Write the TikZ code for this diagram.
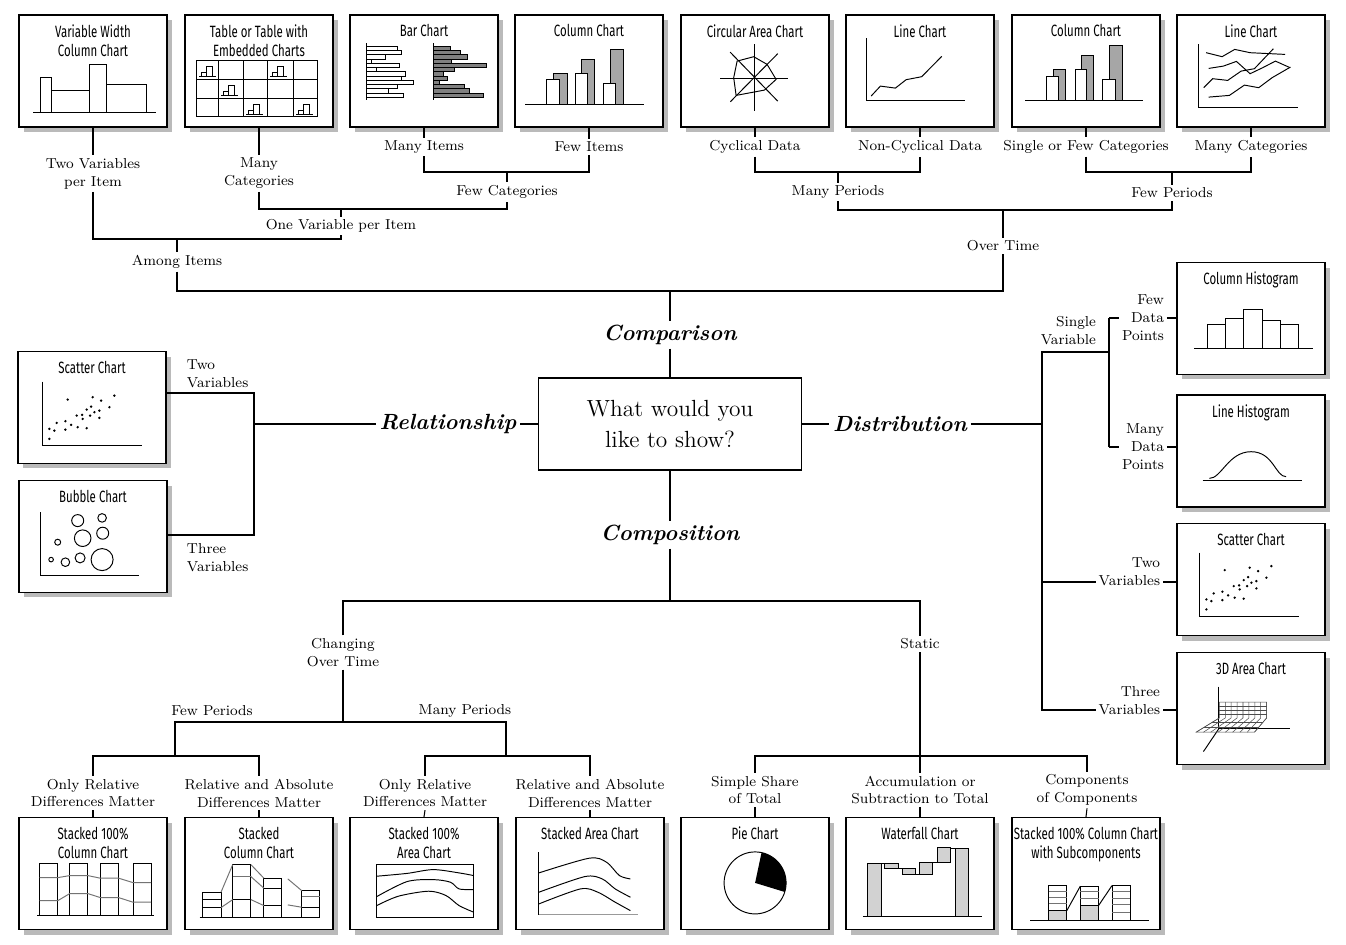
\documentclass[tikz,border=0pt]{standalone}
\usepackage{fontspec}
\newfontfamily\chartfont[FakeStretch=0.7]{Fira Sans}
\usetikzlibrary{positioning,shadows}

\begin{document}
\begin{tikzpicture}[x=0.02cm, y=-0.02cm,
	chart/.style={draw, line width=0.7pt, fill=white, minimum width=2.96cm, minimum height=2.24cm, inner sep=0pt,
		general shadow={fill=black!27, shadow xshift=0.1cm, shadow yshift=-0.1cm}},
	title/.style={font=\chartfont\fontsize{9.3}{10.8}\selectfont, align=center, inner sep=1pt},
	choice/.style={font=\fontsize{8.2}{10.2}\selectfont, align=center, inner sep=1.5pt},
	branch/.style={font=\fontsize{12.5}{14}\selectfont\bfseries\itshape, inner sep=2pt},
	link/.style={line width=0.6pt},
	part/.style={line width=0.55pt},
	mesh/.style={line width=0.3pt, black!70}]
	\useasboundingbox (0,0) rectangle (1346,944);

	\node[chart] (vw) at (93,71) {};
	\node[chart] (tab) at (259,71) {};
	\node[chart] (bar) at (424,71) {};
	\node[chart] (colA) at (589,71) {};
	\node[chart] (circ) at (755,71) {};
	\node[chart] (lineA) at (920,71) {};
	\node[chart] (colB) at (1086,71) {};
	\node[chart] (lineB) at (1251,71) {};
	\node[chart] (scatA) at (92,407.5) {};
	\node[chart] (bub) at (93,536.5) {};
	\node[chart] (histA) at (1251,318.5) {};
	\node[chart] (histB) at (1251,451) {};
	\node[chart] (scatB) at (1251,579.5) {};
	\node[chart] (area3d) at (1251,708.5) {};
	\node[chart] (stkA) at (93,873.5) {};
	\node[chart] (stkB) at (259,873.5) {};
	\node[chart] (stkC) at (424,873.5) {};
	\node[chart] (stkD) at (590,873.5) {};
	\node[chart] (pie) at (755,873.5) {};
	\node[chart] (wfall) at (920,873.5) {};
	\node[chart] (subc) at (1086,873.5) {};

	\node[title, below=4.5pt of vw.north] (vwT) {Variable Width\\Column Chart};
	\node[title, below=4.5pt of tab.north] (tabT) {Table or Table with\\Embedded Charts};
	\node[title, below=4.5pt of bar.north] (barT) {Bar Chart};
	\node[title, below=4.5pt of colA.north] (colAT) {Column Chart};
	\node[title, below=4.5pt of circ.north] (circT) {Circular Area Chart};
	\node[title, below=4.5pt of lineA.north] (lineAT) {Line Chart};
	\node[title, below=4.5pt of colB.north] (colBT) {Column Chart};
	\node[title, below=4.5pt of lineB.north] (lineBT) {Line Chart};
	\node[title, below=4.5pt of scatA.north] (scatAT) {Scatter Chart};
	\node[title, below=4.5pt of bub.north] (bubT) {Bubble Chart};
	\node[title, below=4.5pt of histA.north] (histAT) {Column Histogram};
	\node[title, below=4.5pt of histB.north] (histBT) {Line Histogram};
	\node[title, below=4.5pt of scatB.north] (scatBT) {Scatter Chart};
	\node[title, below=4.5pt of area3d.north] (area3dT) {3D Area Chart};
	\node[title, below=4.5pt of stkA.north] (stkAT) {Stacked 100\%\\Column Chart};
	\node[title, below=4.5pt of stkB.north] (stkBT) {Stacked\\Column Chart};
	\node[title, below=4.5pt of stkC.north] (stkCT) {Stacked 100\%\\Area Chart};
	\node[title, below=4.5pt of stkD.north] (stkDT) {Stacked Area Chart};
	\node[title, below=4.5pt of pie.north] (pieT) {Pie Chart};
	\node[title, below=4.5pt of wfall.north] (wfallT) {Waterfall Chart};
	\node[title, below=4.5pt of subc.north] (subcT) {Stacked 100\% Column Chart\\with Subcomponents};

	\node[draw, line width=0.7pt, minimum width=5.26cm, minimum height=1.84cm, align=center,
		font=\fontsize{13.3}{18}\selectfont] (ask) at (670,424) {What would you\\like to show?};
	\node[branch] (cmp) at (670,335) {Comparison};
	\node[branch] (rel) at (448,424) {Relationship};
	\node[branch] (dst) at (900,424) {Distribution};
	\node[branch] (cps) at (670,535) {Composition};

	\node[choice] (l11) at (93,173.5) {Two Variables\\per Item};
	\node[choice] (l12) at (259,173.5) {Many\\Categories};
	\node[choice] (l13) at (424,147) {Many Items};
	\node[choice] (l14) at (589,147) {Few Items};
	\node[choice] (l15) at (755,147) {Cyclical Data};
	\node[choice] (l16) at (920,147) {Non-Cyclical Data};
	\node[choice] (l17) at (1086,147) {Single or Few Categories};
	\node[choice] (l18) at (1251,147) {Many Categories};
	\node[choice] (l21) at (507,192) {Few Categories};
	\node[choice] (l22) at (838,192) {Many Periods};
	\node[choice] (l23) at (1172,193) {Few Periods};
	\node[choice] (l31) at (341,226) {One Variable per Item};
	\node[choice] (l32) at (1003,246) {Over Time};
	\node[choice] (l41) at (177,262) {Among Items};

	\node[choice, anchor=west, align=left] (l51) at (184,374) {Two\\Variables};
	\node[choice, anchor=west, align=left] (l52) at (184,558) {Three\\Variables};

	\node[choice, anchor=east, align=right] (l61) at (1099,331) {Single\\Variable};
	\node[choice, align=right] (l62) at (1143,318) {Few\\Data\\Points};
	\node[choice, align=right] (l63) at (1143,447) {Many\\Data\\Points};
	\node[choice, anchor=east, align=right] (l64) at (1163,572) {Two\\Variables};
	\node[choice, anchor=east, align=right] (l65) at (1163,700.5) {Three\\Variables};

	\node[choice] (l71) at (343,652.5) {Changing\\Over Time};
	\node[choice] (l72) at (920,644) {Static};
	\node[choice] (l73) at (212,711) {Few Periods};
	\node[choice] (l74) at (465,711) {Many Periods};
	\node[choice] (l81) at (93,793) {Only Relative\\Differences Matter};
	\node[choice] (l82) at (259,793) {Relative and Absolute\\Differences Matter};
	\node[choice] (l83) at (425,793) {Only Relative\\Differences Matter};
	\node[choice] (l84) at (590,793) {Relative and Absolute\\Differences Matter};
	\node[choice] (l85) at (755,790) {Simple Share\\of Total};
	\node[choice] (l86) at (920,790) {Accumulation or\\Subtraction to Total};
	\node[choice] (l87) at (1087,790) {Components\\of Components};

	\coordinate (jFC) at (507,172);
	\coordinate (jOV) at (341,209);
	\coordinate (jAI) at (177,239);
	\coordinate (jMP) at (838,172);
	\coordinate (jFP) at (1172,172);
	\coordinate (jOT) at (1003,210);
	\coordinate (jCP) at (670,291);
	\coordinate (jR) at (254,424);
	\coordinate (jR1) at (254,393);
	\coordinate (jR2) at (254,535);
	\coordinate (jD) at (1042,424);
	\coordinate (jSV) at (1109,352);
	\coordinate (jDa) at (1109,318);
	\coordinate (jDb) at (1109,447);
	\coordinate (jD3) at (1042,582);
	\coordinate (jD4) at (1042,710);
	\coordinate (jC) at (670,601);
	\coordinate (jCT) at (343,722);
	\coordinate (jFPb) at (175,756);
	\coordinate (jMPb) at (506,756);
	\coordinate (jST) at (920,756);

	\draw[link] (vw.south) -- (l11.north);
	\draw[link] (tab.south) -- (l12.north);
	\draw[link] (bar.south) -- (l13.north);
	\draw[link] (colA.south) -- (l14.north);
	\draw[link] (circ.south) -- (l15.north);
	\draw[link] (lineA.south) -- (l16.north);
	\draw[link] (colB.south) -- (l17.north);
	\draw[link] (lineB.south) -- (l18.north);
	\draw[link] (l13.south) |- (jFC) -| (l14.south);
	\draw[link] (jFC) -- (l21.north);
	\draw[link] (l12.south) |- (jOV) -| (l21.south);
	\draw[link] (jOV) -- (l31.north);
	\draw[link] (l11.south) |- (jAI) -| (l31.south);
	\draw[link] (jAI) -- (l41.north);
	\draw[link] (l15.south) |- (jMP) -| (l16.south);
	\draw[link] (jMP) -- (l22.north);
	\draw[link] (l17.south) |- (jFP) -| (l18.south);
	\draw[link] (jFP) -- (l23.north);
	\draw[link] (l22.south) |- (jOT) -| (l23.south);
	\draw[link] (jOT) -- (l32.north);
	\draw[link] (l41.south) |- (jCP) -| (l32.south);
	\draw[link] (jCP) -- (cmp.north);
	\draw[link] (cmp.south) -- (ask.north);

	\draw[link] (ask.west) -- (rel.east);
	\draw[link] (rel.west) -- (jR);
	\draw[link] (scatA.east |- jR1) -- (jR1) -- (jR2) -- (bub.east |- jR2);

	\draw[link] (ask.east) -- (dst.west);
	\draw[link] (dst.east) -- (jD);
	\draw[link] (jSV) -| (jD4) -- (l65.west |- jD4);
	\draw[link] (l65.east |- jD4) -- (area3d.west |- jD4);
	\draw[link] (jD3) -- (l64.west |- jD3);
	\draw[link] (l64.east |- jD3) -- (scatB.west |- jD3);
	\draw[link] (jDa) -- (jDb);
	\draw[link] (jDa) -- (l62);
	\draw[link] (l62) -- (l62 -| histA.west);
	\draw[link] (jDb) -- (l63);
	\draw[link] (l63) -- (l63 -| histB.west);

	\draw[link] (ask.south) -- (cps.north);
	\draw[link] (cps.south) -- (jC);
	\draw[link] (l71.north) |- (jC) -| (l72.north);
	\draw[link] (l71.south) -- (jCT);
	\draw[link] (jFPb) |- (jCT) -| (jMPb);
	\draw[link] (l81.north) |- (jFPb) -| (l82.north);
	\draw[link] (l83.north) |- (jMPb) -| (l84.north);
	\draw[link] (l72.south) -- (jST);
	\draw[link] (l85.north) |- (jST) -| (l87.north);
	\draw[link] (jST) -- (l86.north);
	\draw[link] (l81.south) -- (stkA.north);
	\draw[link] (l82.south) -- (stkB.north);
	\draw[link] (l83.south) -- (stkC.north);
	\draw[link] (l84.south) -- (stkD.north);
	\draw[link] (l85.south) -- (pie.north);
	\draw[link] (l86.south) -- (wfall.north);
	\draw[link] (l87.south) -- (subc.north);

	\begin{scope}[shift={(vw.north west)}]
		\draw[part] (15,98) -- (138,98);
		\draw[part] (22,98) rectangle (33,63);
		\draw[part] (33,98) rectangle (71,76);
		\draw[part] (71,98) rectangle (88,50);
		\draw[part] (88,98) rectangle (128,70);
	\end{scope}

	\begin{scope}[shift={(tab.north west)}]
		\draw[part] (12,46) rectangle (133,102);
		\foreach \gx in {34,59,83,109} \draw[part] (\gx,46) -- (\gx,102);
		\foreach \gy in {65,84} \draw[part] (12,\gy) -- (133,\gy);
		\foreach \cx/\cy in {12/46,83/46,34/65,59/84,109/84} {
			\draw[part] ({\cx+3},{\cy+16}) -- ++(17,0);
			\draw[part] ({\cx+5},{\cy+16}) rectangle ++(5,-4);
			\draw[part] ({\cx+10},{\cy+16}) rectangle ++(6,-10);
		}
	\end{scope}

	\begin{scope}[shift={(bar.north west)}]
		\foreach \l [count=\i from 0] in {31,35,19,5,33,10,39,35,47,31,22,37}
			\draw[part, fill=white] (17.3,{32+4.25*\i}) rectangle ++(\l,4.25);
		\foreach \l [count=\i from 0] in {17,27,34,18,53,21,10,14,6,31,36,50}
			\draw[part, fill=gray] (84.3,{32+4.25*\i}) rectangle ++(\l,4.25);
		\draw[part] (17.3,29) -- (17.3,86);
		\draw[part] (84.3,29) -- (84.3,86);
	\end{scope}

	\begin{scope}[shift={(colA.north west)}]
		\draw[part, fill=gray!70] (39.3,90) rectangle (52.7,59.3);
		\draw[part, fill=white] (32.3,90) rectangle (45,65.3);
		\draw[part, fill=gray!70] (67.3,90) rectangle (80.3,45.3);
		\draw[part, fill=white] (61.3,90) rectangle (73.3,59.3);
		\draw[part, fill=gray!70] (96.3,90) rectangle (108.7,35.3);
		\draw[part, fill=white] (89.3,90) rectangle (101.3,69.3);
		\draw[part] (11,90) -- (130,90);
	\end{scope}

	\begin{scope}[shift={(circ.north west)}]
		\draw[part] (39.7,63.7) -- (107.7,63.7);
		\draw[part] (73.7,30) -- (73.7,97);
		\draw[part] (49.7,37.7) -- (97.3,86.7);
		\draw[part] (97.3,39.3) -- (50,87.3);
		\draw[part] (56.7,46.7) -- (73.3,42.3) -- (86.7,50) -- (95.7,65) -- (84,75.7) -- (55.7,81) -- (53.3,63.3) -- cycle;
	\end{scope}

	\begin{scope}[shift={(lineA.north west)}]
		\draw[part] (20.7,24) -- (20.7,86.3) -- (120,86.3);
		\draw[part] (25.7,81.7) -- (35,71.7) -- (50,73.7) -- (60.7,65.3) -- (76.3,62.3) -- (96.3,42);
	\end{scope}

	\begin{scope}[shift={(colB.north west)}]
		\draw[part, fill=gray!70] (42.3,86) rectangle (54.3,55.3);
		\draw[part, fill=white] (35.3,86) rectangle (47.3,62.3);
		\draw[part, fill=gray!70] (70.3,86) rectangle (82.3,41.3);
		\draw[part, fill=white] (63.7,86) rectangle (75.3,55.3);
		\draw[part, fill=gray!70] (98.3,86) rectangle (111.3,31.3);
		\draw[part, fill=white] (91.3,86) rectangle (104,65.3);
		\draw[part] (14,86) -- (132,86);
	\end{scope}

	\begin{scope}[shift={(lineB.north west)}]
		\draw[part] (22.3,30) -- (22.3,93.3) -- (121.7,93.3);
		\draw[part] (29.7,38.3) -- (45.7,42.3) -- (58.3,35) -- (73.7,38.3) -- (108.7,40);
		\draw[part] (32.3,54) -- (47,51.7) -- (60,47) -- (73.7,59.3) -- (86.3,53.3) -- (99,46.7) -- (113.7,53.3);
		\draw[part] (27.3,73.3) -- (36.3,64.3) -- (51.3,66) -- (64.7,56.7) -- (78,54.3) -- (97,34.3);
		\draw[part] (32.3,82.7) -- (53,81) -- (68,70.7) -- (82.3,73.3) -- (95.7,63.3) -- (114,52.7);
	\end{scope}

	\begin{scope}[shift={(scatA.north west)}]
		\draw[part] (25.3,30.7) -- (25.3,94.7) -- (124.7,94.7);
		\foreach \px/\py in {32/88,32/78,37/79.7,39.3/72,48/70.3,48/78.7,53.7/74,50.3/48.7,60.3/76.3,59.3/64.7,64.7/64,65.3/68,69.3/58.7,69.3/77.3,73.7/55.7,72.7/64.7,75.3/46.3,77/61.3,82/59.7,82/67,83.7/49.7,92/56.3,97/44.7}
			\fill (\px,\py) circle[radius=0.75pt];
	\end{scope}

	\begin{scope}[shift={(scatB.north west)}]
		\draw[part] (23.3,29.8) -- (23.3,93.2) -- (122.3,93.2);
		\foreach \px/\py in {32/88,32/78,37/79.7,39.3/72,48/70.3,48/78.7,53.7/74,50.3/48.7,60.3/76.3,59.3/64.7,64.7/64,65.3/68,69.3/58.7,69.3/77.3,73.7/55.7,72.7/64.7,75.3/46.3,77/61.3,82/59.7,82/67,83.7/49.7,92/56.3,97/44.7}
			\fill ({\px-2},{\py-1.5}) circle[radius=0.75pt];
	\end{scope}

	\begin{scope}[shift={(bub.north west)}]
		\draw[part] (21.7,32.3) -- (21.7,95.7) -- (120.3,95.7);
		\draw[part] (59.3,40.7) circle[radius=0.12cm];
		\draw[part] (83.7,38) circle[radius=0.086cm];
		\draw[part] (64.3,58.3) circle[radius=0.166cm];
		\draw[part] (84.3,53.3) circle[radius=0.12cm];
		\draw[part] (39.3,62.3) circle[radius=0.06cm];
		\draw[part] (32.7,79.7) circle[radius=0.046cm];
		\draw[part] (47,82.3) circle[radius=0.086cm];
		\draw[part] (61.7,78) circle[radius=0.1cm];
		\draw[part] (83.7,79.7) circle[radius=0.22cm];
	\end{scope}

	\begin{scope}[shift={(histA.north west)}]
		\draw[part] (31.3,86.3) rectangle (49.3,62.3);
		\draw[part] (49.3,86.3) rectangle (67.3,56.3);
		\draw[part] (67.3,86.3) rectangle (85.7,47.3);
		\draw[part] (85.7,86.3) rectangle (104,58.3);
		\draw[part] (104,86.3) rectangle (122.3,62.3);
		\draw[part] (18,86.3) -- (137,86.3);
	\end{scope}

	\begin{scope}[shift={(histB.north west)}]
		\draw[part] (26.3,86) -- (125.7,86);
		\draw[part] (33,84) .. controls (45,84) and (52,57.3) .. (74.7,57.3) .. controls (97,57.3) and (99,82.3) .. (109.7,82.3);
	\end{scope}

	\begin{scope}[shift={(area3d.north west)}]
		\draw[part] (42.3,34.7) -- (42.3,77) -- (114,77);
		\draw[part] (42.3,77) -- (27,99.7);
		\foreach \i in {0,...,8}
			\draw[mesh] ({43+5.9*\i},50.3) -- ({43+5.9*\i},66) -- ({19.7+7.3*\i},80.3);
		\foreach \v in {54.2,58.1,62}
			\draw[mesh] (43,\v) -- (90.3,\v);
		\draw[mesh] (35.2,70.8) -- (86.2,70.8);
		\draw[mesh] (27.5,75.5) -- (82.1,75.5);
		\draw[mesh] (43,50.3) -- (90.3,50.3) -- (90.3,66) -- (78,80.3) -- (19.7,80.3) -- (43,66);
	\end{scope}

	\begin{scope}[shift={(stkA.north west)}]
		\foreach \cx in {21.3,51.3,82,114.6}
			\draw[part] (\cx,99) rectangle ++(18.2,-52.7);
		\draw[part, black!55] (21.3,60.7) -- (39.5,60.7) -- (51.3,58.7) -- (69.5,58.7) -- (82,61.3) -- (100.3,61.3) -- (114.6,65.7) -- (132.8,65.7);
		\draw[part, black!55] (21.3,83.7) -- (39.5,83.7) -- (51.3,76.7) -- (69.5,76.7) -- (82,80.7) -- (100.3,80.7) -- (114.6,85.3) -- (132.8,85.3);
		\draw[part] (18.7,99) -- (135.8,99);
	\end{scope}

	\begin{scope}[shift={(stkB.north west)}]
		\draw[part] (18.4,100.3) rectangle (36.6,75.3);
		\draw[part] (18.4,82.7) -- (36.6,82.7);
		\draw[part] (18.4,90.7) -- (36.6,90.7);
		\draw[part] (48.3,100.3) rectangle (66.5,47.7);
		\draw[part, black!55] (48.3,59.7) -- (66.5,59.7);
		\draw[part] (48.3,82.7) -- (66.5,82.7);
		\draw[part] (79.5,100.3) rectangle (97.3,61.3);
		\draw[part] (79.5,71.3) -- (97.3,71.3);
		\draw[part] (79.5,88.7) -- (97.3,88.7);
		\draw[part] (117.3,100.3) rectangle (135.5,73.7);
		\draw[part, black!55] (117.3,79.7) -- (135.5,79.7);
		\draw[part] (117.3,90.3) -- (135.5,90.3);
		\draw[part, black!55] (36.6,75.3) -- (48.3,47.7);
		\draw[part, black!55] (36.6,90.7) -- (48.3,82.7);
		\draw[part, black!55] (66.5,47.7) -- (79.5,61.3);
		\draw[part, black!55] (66.5,59.7) -- (79.5,71.3);
		\draw[part, black!55] (66.5,82.7) -- (79.5,88.7);
		\draw[part, black!55] (103.4,62) -- (117.3,73.7);
		\draw[part, black!55] (103.4,88) -- (117.3,90.3);
		\draw[part] (15.3,100.3) -- (135.9,100.3);
	\end{scope}

	\begin{scope}[shift={(stkC.north west)}]
		\draw[part] (27.3,47.3) rectangle (124.4,100.3);
		\draw[part] plot[smooth] coordinates {(27.3,59.3) (57.6,56.5) (83.7,52.7) (109.7,56) (124.4,58.7)};
		\draw[part] plot[smooth] coordinates {(27.3,79.7) (57.6,64.7) (83.7,62.7) (101,65.3) (109.7,72) (124.4,72.7)};
		\draw[part] plot[smooth] coordinates {(27.3,88.7) (49,79.3) (79.3,74.3) (96.7,78.7) (109.7,88.7) (124.4,95.3)};
	\end{scope}

	\begin{scope}[shift={(stkD.north west)}]
		\draw[part] (23.5,35.3) -- (23.5,98);
		\draw[part, black!40] (23.5,98) -- (122.3,98);
		\draw[part] plot[smooth] coordinates {(23.5,56) (73.8,41.3) (91.1,45.3) (104.1,58.7) (115,62)};
		\draw[part] plot[smooth] coordinates {(23.5,75.3) (69.4,59.7) (86.8,62) (99.8,72) (115,80.3)};
		\draw[part] plot[smooth] coordinates {(23.5,87) (65.1,72) (82.4,75.3) (99.8,85.3) (115,93.7)};
	\end{scope}

	\begin{scope}[shift={(pie.north west)}]
		\draw[part] (74.7,66) circle[radius=0.62cm];
		\fill (74.7,66) -- ++(-17:0.62cm) arc[start angle=-17, end angle=78, radius=0.62cm] -- cycle;
	\end{scope}

	\begin{scope}[shift={(wfall.north west)}]
		\draw[part, fill=gray!35] (22.3,99.3) rectangle (35.7,46.3);
		\draw[part, fill=gray!35] (38.8,46.3) rectangle (52.7,52);
		\draw[part, fill=gray!35] (57.5,52) rectangle (69.7,58);
		\draw[part, fill=gray!35] (74.4,58) rectangle (87.5,45.3);
		\draw[part, fill=gray!35] (92.3,45.3) rectangle (104.9,30.3);
		\draw[part, fill=gray!35] (109.7,99.3) rectangle (123.1,31.3);
		\draw[part] (35.7,46.3) -- (38.8,46.3);
		\draw[part] (52.7,52) -- (57.5,52);
		\draw[part] (69.7,58) -- (74.4,58);
		\draw[part] (87.5,45.3) -- (92.3,45.3);
		\draw[part] (104.9,31.3) -- (109.7,31.3);
		\draw[part] (17.5,99.3) -- (136.2,99.3);
	\end{scope}

	\begin{scope}[shift={(subc.north west)}]
		\draw[part, fill=gray!35] (37.1,103.7) rectangle (55.4,93.7);
		\draw[part, fill=gray!35] (68.9,103.7) rectangle (87.1,88.7);
		\draw[part] (37.1,103.7) rectangle (55.4,68.7);
		\draw[part] (68.9,103.7) rectangle (87.1,69.3);
		\draw[part] (100.6,103.7) rectangle (118.9,68.7);
		\foreach \v in {74.7,81,87}
			\draw[part, black!55] (37.1,\v) -- (55.4,\v);
		\foreach \v in {74.7,82}
			\draw[part, black!55] (68.9,\v) -- (87.1,\v);
		\foreach \v in {74.7,81.3,87.7,95.3}
			\draw[part, black!55] (100.6,\v) -- (118.9,\v);
		\draw[part] (55.4,93.7) -- (68.9,69.3);
		\draw[part] (87.1,88.7) -- (100.6,68.7);
		\draw[part] (18.9,103.7) -- (137.6,103.7);
	\end{scope}
\end{tikzpicture}
\end{document}
